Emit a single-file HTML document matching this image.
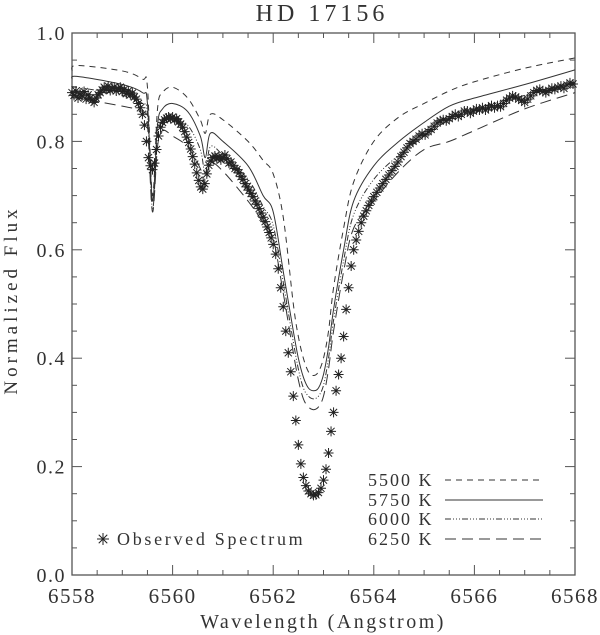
<!DOCTYPE html>
<html><head><meta charset="utf-8"><style>
html,body{margin:0;padding:0;background:#fff;}
svg{display:block;font-family:"Liberation Serif",serif;}
</style></head><body>
<svg id="chart" width="600" height="635" viewBox="0 0 600 635" xmlns="http://www.w3.org/2000/svg">
<text x="322" y="21" font-size="24" letter-spacing="4" text-anchor="middle" fill="#333">HD 17156</text>
<text x="0" y="0" font-size="19" letter-spacing="4" text-anchor="middle" fill="#333" transform="translate(17,300) rotate(-90)">Normalized Flux</text>
<text x="323" y="628" font-size="20" letter-spacing="2.5" text-anchor="middle" fill="#333">Wavelength (Angstrom)</text>
<g id="axes"></g>
<g id="series"></g>
<g id="legend"></g>
</svg>
<script>
const xTicks = [6558, 6560, 6562, 6564, 6566, 6568];
const yTicks = [0.0, 0.2, 0.4, 0.6, 0.8, 1.0];
const yTickLabels = ["0.0", "0.2", "0.4", "0.6", "0.8", "1.0"];
const obsWave = [6558.00,6558.04,6558.08,6558.12,6558.16,6558.20,6558.24,6558.28,6558.32,6558.36,6558.40,6558.44,6558.48,6558.52,6558.56,6558.60,6558.64,6558.68,6558.72,6558.76,6558.80,6558.84,6558.88,6558.92,6558.96,6559.00,6559.04,6559.08,6559.12,6559.16,6559.20,6559.24,6559.28,6559.32,6559.36,6559.40,6559.44,6559.48,6559.52,6559.56,6559.60,6559.64,6559.68,6559.72,6559.76,6559.80,6559.84,6559.88,6559.92,6559.96,6560.00,6560.04,6560.08,6560.12,6560.16,6560.20,6560.24,6560.28,6560.32,6560.36,6560.40,6560.44,6560.48,6560.52,6560.56,6560.60,6560.64,6560.68,6560.72,6560.76,6560.80,6560.84,6560.88,6560.92,6560.96,6561.00,6561.04,6561.08,6561.12,6561.16,6561.20,6561.24,6561.28,6561.32,6561.36,6561.40,6561.44,6561.48,6561.52,6561.56,6561.60,6561.64,6561.68,6561.72,6561.76,6561.80,6561.84,6561.88,6561.92,6561.96,6562.00,6562.05,6562.10,6562.15,6562.20,6562.25,6562.30,6562.35,6562.40,6562.45,6562.50,6562.55,6562.60,6562.65,6562.70,6562.75,6562.80,6562.85,6562.90,6562.95,6563.00,6563.05,6563.10,6563.15,6563.20,6563.25,6563.30,6563.35,6563.40,6563.45,6563.50,6563.55,6563.60,6563.65,6563.70,6563.75,6563.80,6563.85,6563.90,6563.95,6564.00,6564.06,6564.12,6564.18,6564.24,6564.30,6564.36,6564.42,6564.48,6564.54,6564.60,6564.66,6564.72,6564.78,6564.84,6564.90,6564.96,6565.02,6565.08,6565.14,6565.20,6565.26,6565.32,6565.38,6565.44,6565.50,6565.56,6565.62,6565.68,6565.74,6565.80,6565.86,6565.92,6565.98,6566.04,6566.10,6566.16,6566.22,6566.28,6566.34,6566.40,6566.46,6566.52,6566.58,6566.64,6566.70,6566.76,6566.82,6566.88,6566.94,6567.00,6567.06,6567.12,6567.18,6567.24,6567.30,6567.36,6567.42,6567.48,6567.54,6567.60,6567.66,6567.72,6567.78,6567.84,6567.90,6567.96];
const obsFlux = [.890,.885,.893,.880,.888,.884,.892,.878,.886,.880,.876,.872,.880,.886,.890,.895,.900,.896,.902,.894,.898,.900,.893,.897,.900,.892,.896,.888,.893,.886,.889,.882,.878,.870,.862,.850,.830,.800,.770,.755,.748,.760,.785,.810,.826,.835,.840,.843,.845,.842,.845,.840,.842,.836,.832,.826,.818,.808,.798,.786,.772,.758,.742,.728,.716,.712,.722,.740,.756,.764,.770,.773,.768,.772,.766,.770,.775,.768,.760,.762,.755,.750,.748,.742,.735,.730,.722,.716,.710,.704,.698,.690,.684,.676,.668,.660,.652,.642,.632,.622,.610,.592,.565,.530,.495,.450,.410,.375,.330,.285,.240,.205,.180,.165,.155,.150,.147,.148,.152,.160,.175,.195,.225,.265,.300,.340,.370,.400,.440,.490,.530,.570,.600,.618,.634,.650,.662,.672,.682,.690,.698,.706,.714,.722,.730,.738,.746,.754,.762,.772,.780,.788,.796,.800,.804,.810,.814,.812,.818,.822,.828,.834,.838,.840,.838,.842,.846,.850,.846,.850,.856,.856,.852,.856,.860,.858,.862,.858,.862,.866,.862,.866,.864,.870,.876,.880,.884,.882,.878,.876,.872,.878,.884,.890,.894,.896,.892,.890,.894,.898,.896,.900,.902,.898,.904,.908,.906];
const modelWave = [6558,6558.1,6559,6559.4,6559.5,6559.6,6559.7,6559.8,6560,6560.3,6560.55,6560.65,6560.75,6561,6561.5,6561.8,6562.0,6562.2,6562.4,6562.5,6562.6,6562.7,6562.8,6562.9,6563.0,6563.1,6563.2,6563.4,6563.6,6564.0,6564.5,6565,6565.5,6566,6567,6568];
const flux5500 = [.93,.94,.93,.915,.90,.70,.86,.89,.90,.88,.84,.815,.85,.84,.80,.765,.74,.66,.50,.44,.40,.375,.368,.375,.40,.45,.53,.64,.725,.80,.845,.87,.893,.91,.935,.954];
const flux5750 = [.915,.92,.905,.89,.87,.69,.83,.86,.87,.855,.81,.77,.815,.80,.755,.70,.67,.56,.45,.40,.365,.345,.34,.345,.37,.42,.49,.60,.69,.755,.80,.835,.865,.88,.905,.932];
const flux6000 = [.90,.90,.885,.87,.85,.675,.81,.84,.845,.83,.785,.74,.79,.775,.73,.68,.645,.54,.43,.38,.345,.33,.325,.33,.35,.40,.47,.58,.665,.73,.775,.81,.84,.86,.885,.91];
const flux6250 = [.88,.88,.865,.855,.83,.67,.79,.82,.81,.79,.75,.72,.76,.745,.69,.65,.62,.52,.41,.36,.325,.31,.305,.31,.33,.38,.45,.56,.64,.69,.745,.785,.80,.82,.86,.89];
const seriesNames = ["5500 K","5750 K","6000 K","6250 K"];

const NS = "http://www.w3.org/2000/svg";
const X0=72, X1=575, Y0=575, Y1=33;
const xMin=6558, xMax=6568;
function sx(v){return X0+(v-xMin)/(xMax-xMin)*(X1-X0);}
function sy(v){return Y0-(v-0)/(1-0)*(Y0-Y1);}
function mk(tag, attrs, parent){const e=document.createElementNS(NS,tag);for(const k in attrs)e.setAttribute(k,attrs[k]);parent.appendChild(e);return e;}
const axes=document.getElementById('axes');
const series=document.getElementById('series');
const legend=document.getElementById('legend');

const frame=mk('rect',{x:X0,y:Y1,width:X1-X0,height:Y0-Y1,fill:'none',stroke:'#555','stroke-width':1.3},axes);



for(let v=6558; v<=6568.001; v+=0.5){
  const major=Math.abs(v-Math.round(v/2)*2)<1e-6;
  const L=major?10:5;
  const x=sx(v);
  const t1=mk('line',{x1:x,y1:Y0,x2:x,y2:Y0-L,stroke:'#555','stroke-width':1},axes);
  
  
  const t2=mk('line',{x1:x,y1:Y1,x2:x,y2:Y1+L,stroke:'#555','stroke-width':1},axes);
  
  
}
xTicks.forEach(v=>{
  const t=mk('text',{x:sx(v),y:603,'font-size':21,'letter-spacing':1.5,'text-anchor':'middle',fill:'#333'},axes);
  t.textContent=String(v);
  
  
});
for(let i=0;i<=20;i++){
  const v=i*0.05;
  const major=i%4===0;
  const L=major?10:5;
  const y=sy(v);
  const t1=mk('line',{x1:X0,y1:y,x2:X0+L,y2:y,stroke:'#555','stroke-width':1},axes);
  
  
  const t2=mk('line',{x1:X1,y1:y,x2:X1-L,y2:y,stroke:'#555','stroke-width':1},axes);
  
  
}
yTicks.forEach((v,i)=>{
  const t=mk('text',{x:66,y:sy(v)+7,'font-size':20,'letter-spacing':1.5,'text-anchor':'end',fill:'#333'},axes);
  t.textContent=yTickLabels[i];
  
  
});

function smoothPath(xs, ys){
  const p=xs.map((w,i)=>[sx(w),sy(ys[i])]);
  let d='M'+p[0][0].toFixed(2)+','+p[0][1].toFixed(2);
  for(let i=0;i<p.length-1;i++){
    const p0=p[Math.max(0,i-1)],p1=p[i],p2=p[i+1],p3=p[Math.min(p.length-1,i+2)];
    const c1=[p1[0]+(p2[0]-p0[0])/6,p1[1]+(p2[1]-p0[1])/6];
    const c2=[p2[0]-(p3[0]-p1[0])/6,p2[1]-(p3[1]-p1[1])/6];
    d+=' C'+c1[0].toFixed(2)+','+c1[1].toFixed(2)+' '+c2[0].toFixed(2)+','+c2[1].toFixed(2)+' '+p2[0].toFixed(2)+','+p2[1].toFixed(2);
  }
  return d;
}
const dashes=["6,5","","6,2,1,2,1,2,1,2","11,6"];
const modelFluxes=[flux5500,flux5750,flux6000,flux6250];
const names=['model-5500k-line','model-5750k-line','model-6000k-line','model-6250k-line'];
modelFluxes.forEach((f,k)=>{
  const a={d:smoothPath(modelWave,f),fill:'none',stroke:'#333','stroke-width':1};
  if(dashes[k])a['stroke-dasharray']=dashes[k];
  const p=mk('path',a,series);
  
  
});

function star(x,y,parent,r){
  const g=mk('g',{stroke:'#222','stroke-width':1},parent);
  const d=r*0.71;
  mk('path',{d:`M${x-r},${y}H${x+r}M${x},${y-r}V${y+r}M${x-d},${y-d}L${x+d},${y+d}M${x-d},${y+d}L${x+d},${y-d}`},g);
  return g;
}
obsWave.forEach((w,i)=>{
  const g=star(sx(w),sy(obsFlux[i]),series,5);
  
  
});

const legY=[480,500,519,539];
seriesNames.forEach((n,k)=>{
  const t=mk('text',{x:368,y:legY[k]+6,'font-size':18,'letter-spacing':2,fill:'#333'},legend);
  t.textContent=n;
  
  
  const a={x1:445,y1:legY[k],x2:543,y2:legY[k],stroke:'#333','stroke-width':1};
  if(dashes[k])a['stroke-dasharray']=dashes[k];
  const l=mk('line',a,legend);
  
  
});
const ls=star(103,539,legend,6);


const lt=mk('text',{x:117,y:545,'font-size':18,'letter-spacing':2.7,fill:'#333'},legend);
lt.textContent='Observed Spectrum';


</script>
</body></html>
